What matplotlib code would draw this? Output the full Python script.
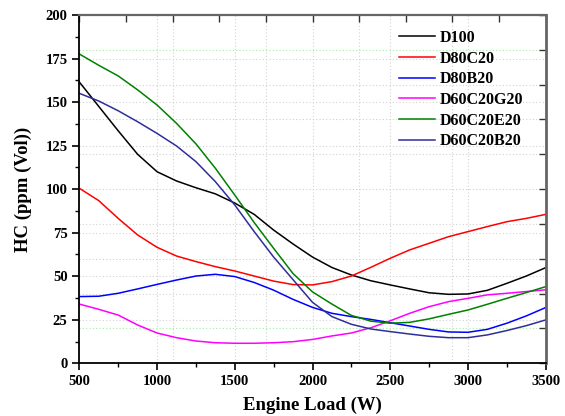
import numpy as np
import matplotlib
matplotlib.use("Agg")
import matplotlib.pyplot as plt
from matplotlib.ticker import MultipleLocator, FixedLocator

plt.rcParams['font.family'] = ['Liberation Serif', 'DejaVu Serif']
plt.rcParams['font.weight'] = 'bold'

load = [500, 625, 750, 875, 1000, 1125, 1250, 1375, 1500, 1625, 1750, 1875, 2000,
        2125, 2250, 2375, 2500, 2625, 2750, 2875, 3000, 3125, 3250, 3375, 3500]

d100 = [161.5, 147.5, 133.5, 120, 110, 104.7, 100.8, 97.3, 92, 85.5, 76.5, 68.5, 61,
        55, 50.7, 47.4, 45, 42.7, 40.5, 39.6, 39.8, 41.9, 45.9, 50.1, 54.9]
d80c20 = [100.5, 93.4, 83.2, 73.7, 66.6, 61.6, 58.4, 55.5, 53, 50.1, 47.2, 45.2, 45,
          46.9, 50.1, 55.1, 60.3, 65.1, 68.9, 72.7, 75.6, 78.5, 81.3, 83.2, 85.5]
d80b20 = [38.3, 38.5, 40.2, 42.7, 45.3, 47.8, 50.1, 51.1, 49.8, 46.4, 42, 36.7, 32.1,
          28.7, 26.8, 25.2, 23.3, 21.4, 19.5, 18, 17.8, 19.5, 23, 27.2, 32]
d60c20g20 = [34, 31, 27.7, 22, 17.4, 14.7, 12.8, 11.8, 11.5, 11.5, 11.8, 12.4, 13.7,
             15.7, 17.4, 20.4, 24.4, 28.7, 32.5, 35.4, 37.3, 39.3, 40.2, 41.2, 42.2]
d60c20e20 = [177.6, 171.1, 165, 157, 148.3, 137.8, 126, 112, 96.6, 80.8, 66, 51.5, 41,
             34, 27.5, 24.2, 23, 23.5, 25.5, 28.1, 30.6, 33.9, 37.3, 40.6, 44]
d60c20b20 = [155, 150.6, 145, 138.7, 132, 124.8, 115.8, 104.3, 90.9, 75.6, 61, 48, 35,
             26.8, 22.4, 19.7, 18.2, 16.8, 15.5, 14.7, 14.7, 16.3, 18.8, 21.6, 24.9]

series = [
    ("D100", d100, "black"),
    ("D80C20", d80c20, "#ff0000"),
    ("D80B20", d80b20, "#0000ff"),
    ("D60C20G20", d60c20g20, "#ff00ff"),
    ("D60C20E20", d60c20e20, "#008000"),
    ("D60C20B20", d60c20b20, "#2e2e9a"),
]

fig = plt.figure(figsize=(5.65, 4.16), dpi=100)
ax = fig.add_axes([0.1404, 0.1267, 0.8254, 0.8373])

# background dotted grids (two overlaid layers like the original)
for gx in [1000, 1500, 2000, 2500, 3000, 1100, 1700, 2300, 2900]:
    ax.axvline(gx, color='#d2d2d2', linestyle=(0, (1, 2)), linewidth=0.8, zorder=0)
for gy in [25, 50, 75, 125, 150, 175, 40, 80, 120, 160]:
    ax.axhline(gy, color='#d2d2d2', linestyle=(0, (1, 2)), linewidth=0.8, zorder=0)
for gy in [20, 60, 100, 140, 180]:
    ax.axhline(gy, color='#a0eea0', linestyle=(0, (1, 2)), linewidth=0.8, zorder=0)

for name, vals, col in series:
    ax.plot(load, vals, color=col, linewidth=1.1, label=name)

ax.set_xlim(500, 3500)
ax.set_ylim(0, 200)
ax.xaxis.set_major_locator(MultipleLocator(500))
ax.xaxis.set_minor_locator(MultipleLocator(250))
ax.yaxis.set_major_locator(MultipleLocator(25))
ax.yaxis.set_minor_locator(MultipleLocator(12.5))
ax.tick_params(which='major', direction='out', length=5, width=1.2, labelsize=10.5)
ax.tick_params(which='minor', direction='out', length=3, width=1.0)
ax.tick_params(top=False, right=False)

for lab in ax.get_xticklabels() + ax.get_yticklabels():
    lab.set_fontweight('bold')

ax.spines['left'].set_linewidth(1.3)
ax.spines['bottom'].set_linewidth(1.3)
ax.spines['top'].set_color('#666666')
ax.spines['right'].set_color('#666666')
ax.spines['top'].set_linewidth(1.6)
ax.spines['right'].set_linewidth(2.0)

top = ax.secondary_xaxis('top')
top.xaxis.set_major_locator(FixedLocator(np.arange(500, 3501, 300)))
top.tick_params(direction='in', length=5, width=1.0, colors='#333333', labeltop=False)
top.spines['top'].set_visible(False)

right = ax.secondary_yaxis('right')
right.yaxis.set_major_locator(FixedLocator(np.arange(0, 201, 20)))
right.tick_params(direction='in', length=5, width=1.0, colors='#333333', labelright=False)
right.spines['right'].set_visible(False)

ax.set_xlabel("Engine Load (W)", fontsize=13.5, fontweight='bold', labelpad=6)
ax.set_ylabel("HC (ppm (Vol))", fontsize=13.5, fontweight='bold', labelpad=10)

leg = ax.legend(loc='upper left', bbox_to_anchor=(0.655, 0.998), frameon=False,
                prop={'size': 11.5, 'weight': 'bold'}, handlelength=2.25,
                handletextpad=0.3, labelspacing=0.29)

fig.savefig("out.png", dpi=100)
